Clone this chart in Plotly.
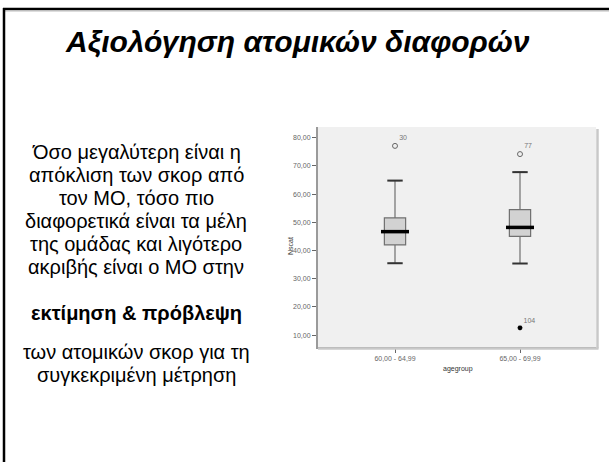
import plotly.graph_objects as go

# ---- data ----
groups = ["60,00 - 64,99", "65,00 - 69,99"]
q1 = [42.0, 45.0]
median = [46.7, 48.2]
q3 = [51.6, 54.5]
lower_whisker = [35.5, 35.4]
upper_whisker = [64.8, 67.8]
out_groups = ["60,00 - 64,99", "65,00 - 69,99"]
out_values = [77.1, 74.2]
out_labels = ["30", "77"]
ext_groups = ["65,00 - 69,99"]
ext_values = [12.6]
ext_labels = ["104"]
y_ticks = [10, 20, 30, 40, 50, 60, 70, 80]
y_tick_text = ["10,00", "20,00", "30,00", "40,00", "50,00", "60,00", "70,00", "80,00"]

title_text = "Αξιολόγηση ατομικών διαφορών"
body1 = ["Όσο μεγαλύτερη είναι η", "απόκλιση των σκορ από", "τον ΜΟ, τόσο πιο",
         "διαφορετικά είναι τα μέλη", "της ομάδας και λιγότερο", "ακριβής είναι ο ΜΟ στην"]
body_bold = "εκτίμηση & πρόβλεψη"
body2 = ["των ατομικών σκορ για τη", "συγκεκριμένη μέτρηση"]

# ---- layout geometry (px) ----
W, H = 609, 462
PL, PR, PT, PB = 318, 596, 127, 347


def px_x(p):
    return (p - PL) / (PR - PL)


def px_y(p):
    return (PB - p) / (PB - PT)


fig = go.Figure()

fig.add_trace(go.Box(
    x=groups, q1=q1, median=median, q3=q3,
    lowerfence=lower_whisker, upperfence=upper_whisker,
    fillcolor="#d2d2d2", line=dict(color="#707070", width=1.2),
    width=0.17, whiskerwidth=0.5, boxpoints=False, hoverinfo="skip",
    showlegend=False,
))
# thick black median lines
fig.add_trace(go.Scatter(
    x=groups, y=median, mode="markers",
    marker=dict(symbol="line-ew", size=20, color="black", line=dict(color="black", width=3.5)),
    showlegend=False, hoverinfo="skip",
))
# whisker caps
fig.add_trace(go.Scatter(
    x=groups + groups, y=lower_whisker + upper_whisker, mode="markers",
    marker=dict(symbol="line-ew", size=11, color="#333333", line=dict(color="#333333", width=2)),
    showlegend=False, hoverinfo="skip",
))
# outliers
fig.add_trace(go.Scatter(
    x=out_groups, y=out_values, mode="markers+text",
    marker=dict(symbol="circle-open", size=5, color="#666666", line=dict(color="#666666", width=1)),
    text=out_labels, textposition="top right",
    textfont=dict(size=7, color="#777777", family="Liberation Sans"),
    showlegend=False, hoverinfo="skip",
))
fig.add_trace(go.Scatter(
    x=ext_groups, y=ext_values, mode="markers+text",
    marker=dict(symbol="asterisk-open", size=4, color="black", line=dict(color="black", width=1.5)),
    text=ext_labels, textposition="top right",
    textfont=dict(size=7, color="#777777", family="Liberation Sans"),
    showlegend=False, hoverinfo="skip",
))

annotations = [
    dict(text="<b><i>" + title_text + "</i></b>", x=px_x(297), y=px_y(42),
         font=dict(size=30, color="black", family="Liberation Sans")),
    dict(text="Nscat", x=px_x(290), y=px_y(246), textangle=-90,
         font=dict(size=7, color="#333333", family="Liberation Sans")),
    dict(text="agegroup", x=px_x(458), y=px_y(369),
         font=dict(size=7, color="#333333", family="Liberation Sans")),
]
body_font = dict(size=20, color="black", family="Liberation Sans")
line_y1 = [152, 175, 198, 221, 244, 267]
for txt, yy in zip(body1, line_y1):
    annotations.append(dict(text=txt, x=px_x(136), y=px_y(yy), font=body_font))
annotations.append(dict(text="<b>" + body_bold + "</b>", x=px_x(136), y=px_y(313), font=body_font))
for txt, yy in zip(body2, [352, 375]):
    annotations.append(dict(text=txt, x=px_x(136), y=px_y(yy), font=body_font))

for a in annotations:
    a.update(xref="paper", yref="paper", showarrow=False,
             xanchor="center", yanchor="middle")

shapes = [
    # plot shadow
    dict(type="line", x0=px_x(PR + 1.5), x1=px_x(PR + 1.5), y0=px_y(PT + 2), y1=px_y(PB + 1.5),
         line=dict(color="#c8c8c8", width=2.5)),
    dict(type="line", x0=px_x(PL), x1=px_x(PR + 2.5), y0=px_y(PB + 1.5), y1=px_y(PB + 1.5),
         line=dict(color="#c8c8c8", width=2.5)),
    # slide frame
    dict(type="line", x0=px_x(3), x1=px_x(W + 5), y0=px_y(9), y1=px_y(9),
         line=dict(color="black", width=2.5)),
    dict(type="line", x0=px_x(3), x1=px_x(W + 5), y0=px_y(11), y1=px_y(11),
         line=dict(color="#bbbbbb", width=1)),
    dict(type="line", x0=px_x(4), x1=px_x(4), y0=px_y(8), y1=px_y(H + 5),
         line=dict(color="black", width=2.5)),
]
for s in shapes:
    s.update(xref="paper", yref="paper", layer="above")

fig.update_layout(
    width=W, height=H,
    margin=dict(l=PL, r=W - PR, t=PT, b=H - PB, pad=0),
    paper_bgcolor="white", plot_bgcolor="#f0f0f0",
    showlegend=False,
    annotations=annotations, shapes=shapes,
    xaxis=dict(type="category", range=[-0.616, 1.608], showgrid=False, zeroline=False,
               showline=True, linecolor="#9a9a9a", linewidth=2,
               ticks="outside", ticklen=4, tickcolor="#666666",
               tickfont=dict(size=7, color="#666666", family="Liberation Sans")),
    yaxis=dict(range=[5.8, 83.8], tickvals=y_ticks, ticktext=y_tick_text,
               showgrid=False, zeroline=False,
               showline=True, linecolor="#9a9a9a", linewidth=2,
               ticks="outside", ticklen=4, tickcolor="#666666",
               tickfont=dict(size=7, color="#666666", family="Liberation Sans")),
)

fig.write_html("out.html", config={"displayModeBar": False, "staticPlot": True},
               post_script="document.body.style.margin='0';document.body.style.overflow='hidden';")
